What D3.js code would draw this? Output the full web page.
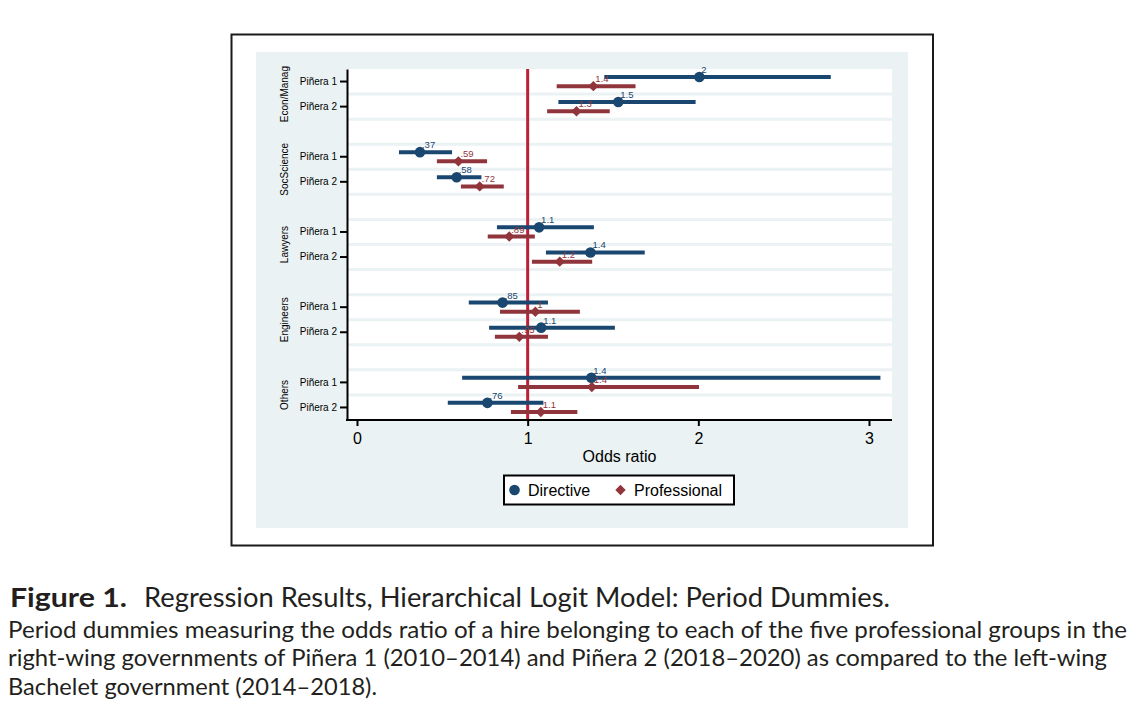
<!DOCTYPE html>
<html>
<head>
<meta charset="utf-8">
<script src="https://cdn.jsdelivr.net/npm/d3@7"></script>
<style>
  body { margin: 0; background: #fff; }
  svg { display: block; }
</style>
</head>
<body>
<script>
// groups and periods (rows of the coefficient plot)
var groups = ["Econ/Manag", "SocScience", "Lawyers", "Engineers", "Others"];
var periods = ["Piñera 1", "Piñera 2"];

// odds ratios and 95% CI, order: group x period
var directiveOR = [2.006, 1.531, 0.369, 0.584, 1.067, 1.368, 0.853, 1.079, 1.373, 0.764];
var directiveLo = [1.449, 1.180, 0.246, 0.468, 0.820, 1.107, 0.655, 0.774, 0.616, 0.532];
var directiveHi = [2.776, 1.984, 0.557, 0.729, 1.388, 1.686, 1.119, 1.511, 3.067, 1.092];

var professionalOR = [1.385, 1.286, 0.594, 0.719, 0.892, 1.188, 1.045, 0.951, 1.376, 1.077];
var professionalLo = [1.170, 1.114, 0.468, 0.609, 0.766, 1.025, 0.838, 0.808, 0.944, 0.902];
var professionalHi = [1.632, 1.481, 0.762, 0.860, 1.042, 1.378, 1.306, 1.119, 2.004, 1.291];

var xTicks = [0, 1, 2, 3];
var refLine = 1;

var seriesNames = ["Directive", "Professional"];
var colors = {Directive: "#1a476f", Professional: "#90353b"};

var W = 1139, H = 713;
var plot = {left: 347, right: 892, top: 69, bottom: 420};

var svg = d3.select("body").append("svg")
    .attr("width", W)
    .attr("height", H);

// frame and stata background
svg.append("rect")
    .attr("x", 231.5).attr("y", 34.5)
    .attr("width", 701.5).attr("height", 511)
    .attr("fill", "#fff").attr("stroke", "#1a1a1a").attr("stroke-width", 2);
svg.append("rect")
    .attr("x", 256).attr("y", 52)
    .attr("width", 652).attr("height", 476)
    .attr("fill", "#eaf2f3");
svg.append("rect")
    .attr("x", plot.left).attr("y", plot.top)
    .attr("width", plot.right - plot.left).attr("height", plot.bottom - plot.top)
    .attr("fill", "#fff");

// scales
var x = d3.scaleLinear().domain([0, 3]).range([357, 869]);

// rows: 2 per group, an empty row between groups
var nRows = groups.length * 3 - 1;
var y = d3.scaleBand().domain(d3.range(nRows)).range([plot.top, plot.bottom]).paddingInner(0).paddingOuter(0);

var rows = [];
groups.forEach(function(g, gi) {
  periods.forEach(function(p, pi) {
    var i = gi * 2 + pi;
    rows.push({
      group: g, period: p, row: gi * 3 + pi,
      Directive: {or: directiveOR[i], lo: directiveLo[i], hi: directiveHi[i]},
      Professional: {or: professionalOR[i], lo: professionalLo[i], hi: professionalHi[i]}
    });
  });
});

// grid lines between rows
svg.append("g").selectAll("line")
    .data(d3.range(1, nRows))
    .enter().append("line")
    .attr("x1", plot.left).attr("x2", plot.right)
    .attr("y1", function(d) { return y(d); })
    .attr("y2", function(d) { return y(d); })
    .attr("stroke", "#eaf2f3").attr("stroke-width", 3);

// reference line at OR = 1
svg.append("line")
    .attr("x1", x(refLine)).attr("x2", x(refLine))
    .attr("y1", plot.top).attr("y2", plot.bottom)
    .attr("stroke", "#bd1e3a").attr("stroke-width", 3);

// label format like stata %9.2g (no leading zero)
var fmt = function(v) {
  var s = d3.format(".2r")(v);
  if (s.indexOf(".") >= 0) s = s.replace(/0+$/, "").replace(/\.$/, "");
  return s.replace(/^0\./, ".");
};

var offset = {Directive: -4.6, Professional: 4.6};
var diamond = function(cx, cy, h) {
  return "M" + cx + "," + (cy - h) + "L" + (cx + h) + "," + cy + "L" + cx + "," + (cy + h) + "L" + (cx - h) + "," + cy + "Z";
};

seriesNames.forEach(function(s) {
  var g = svg.append("g").attr("class", "series");
  var cy = function(d) { return y(d.row) + y.bandwidth() / 2 + offset[s]; };

  g.selectAll("line.ci")
      .data(rows).enter().append("line")
      .attr("class", "ci")
      .attr("x1", function(d) { return x(d[s].lo); })
      .attr("x2", function(d) { return x(d[s].hi); })
      .attr("y1", cy).attr("y2", cy)
      .attr("stroke", colors[s]).attr("stroke-width", 4);

  if (s == "Directive") {
    g.selectAll("circle")
        .data(rows).enter().append("circle")
        .attr("cx", function(d) { return x(d[s].or); })
        .attr("cy", cy)
        .attr("r", 5.3)
        .attr("fill", colors[s]);
  } else {
    g.selectAll("path")
        .data(rows).enter().append("path")
        .attr("d", function(d) { return diamond(x(d[s].or), cy(d), 5.2); })
        .attr("fill", colors[s]);
  }

  g.selectAll("text")
      .data(rows).enter().append("text")
      .attr("x", function(d) { return x(d[s].or) + 2; })
      .attr("y", function(d) { return cy(d) - 4; })
      .attr("font-family", "Liberation Sans, Arial, sans-serif")
      .attr("font-size", 9.5)
      .attr("fill", colors[s])
      .text(function(d) { return fmt(d[s].or); });
});

// y axis
var yAxis = d3.axisLeft(y)
    .tickValues(rows.map(function(d) { return d.row; }))
    .tickFormat(function(r) { return rows.find(function(d) { return d.row == r; }).period; })
    .tickSize(7).tickSizeOuter(0).tickPadding(3);
var yg = svg.append("g")
    .attr("transform", "translate(" + plot.left + ",0)")
    .call(yAxis);
yg.select(".domain").attr("stroke", "#000").attr("stroke-width", 2);
yg.selectAll(".tick line").attr("stroke", "#000").attr("stroke-width", 2);
yg.selectAll("text")
    .attr("font-family", "Liberation Sans, Arial, sans-serif")
    .attr("font-size", 10).attr("fill", "#000");

// group labels
svg.append("g").selectAll("text")
    .data(groups).enter().append("text")
    .attr("transform", function(d, i) {
      var c = (y(i * 3) + y(i * 3 + 1) + y.bandwidth()) / 2;
      return "translate(288," + c + ") rotate(-90)";
    })
    .attr("text-anchor", "middle")
    .attr("font-family", "Liberation Sans, Arial, sans-serif")
    .attr("font-size", 10).attr("fill", "#000")
    .text(function(d) { return d; });

// x axis
var xg = svg.append("g")
    .attr("transform", "translate(0," + plot.bottom + ")")
    .call(d3.axisBottom(x).tickValues(xTicks).tickFormat(d3.format("d"))
      .tickSize(6).tickSizeOuter(0).tickPadding(7));
xg.select(".domain").remove();
xg.append("line")
    .attr("x1", plot.left - 1).attr("x2", plot.right)
    .attr("stroke", "#000").attr("stroke-width", 2);
xg.selectAll(".tick line").attr("stroke", "#000").attr("stroke-width", 2);
xg.selectAll("text")
    .attr("font-family", "Liberation Sans, Arial, sans-serif")
    .attr("font-size", 16).attr("fill", "#000");

svg.append("text")
    .attr("x", (plot.left + plot.right) / 2).attr("y", 462)
    .attr("text-anchor", "middle")
    .attr("font-family", "Liberation Sans, Arial, sans-serif")
    .attr("font-size", 16).attr("fill", "#000")
    .text("Odds ratio");

// legend
var legend = svg.append("g");
legend.append("rect")
    .attr("x", 504).attr("y", 475.5)
    .attr("width", 230).attr("height", 29)
    .attr("fill", "#fff").attr("stroke", "#000").attr("stroke-width", 2);
legend.append("circle")
    .attr("cx", 514.5).attr("cy", 490).attr("r", 5.3)
    .attr("fill", colors.Directive);
legend.append("path")
    .attr("d", diamond(620.5, 490, 5.2))
    .attr("fill", colors.Professional);
legend.selectAll("text")
    .data([{t: seriesNames[0], x: 528}, {t: seriesNames[1], x: 634}])
    .enter().append("text")
    .attr("x", function(d) { return d.x; }).attr("y", 496)
    .attr("font-family", "Liberation Sans, Arial, sans-serif")
    .attr("font-size", 16).attr("fill", "#000")
    .text(function(d) { return d.t; });

// caption
var cap = svg.append("g")
    .attr("font-family", "Lato, 'Open Sans', sans-serif")
    .attr("fill", "#231f20");
cap.append("text")
    .attr("x", 10).attr("y", 607)
    .attr("font-size", 26).attr("font-weight", "bold")
    .attr("textLength", 117).attr("lengthAdjust", "spacingAndGlyphs")
    .text("Figure 1.");
cap.append("text")
    .attr("x", 144).attr("y", 607)
    .attr("font-size", 26)
    .attr("textLength", 746).attr("lengthAdjust", "spacingAndGlyphs")
    .text("Regression Results, Hierarchical Logit Model: Period Dummies.");

var captionLines = [
  {t: "Period dummies measuring the odds ratio of a hire belonging to each of the five professional groups in the", y: 637.5, w: 1119},
  {t: "right-wing governments of Piñera 1 (2010–2014) and Piñera 2 (2018–2020) as compared to the left-wing", y: 666, w: 1099},
  {t: "Bachelet government (2014–2018).", y: 694.5, w: 369}
];
cap.selectAll("text.line")
    .data(captionLines).enter().append("text")
    .attr("class", "line")
    .attr("x", 8).attr("y", function(d) { return d.y; })
    .attr("font-size", 23.5)
    .attr("textLength", function(d) { return d.w; })
    .attr("lengthAdjust", "spacingAndGlyphs")
    .text(function(d) { return d.t; });
</script>
</body>
</html>
